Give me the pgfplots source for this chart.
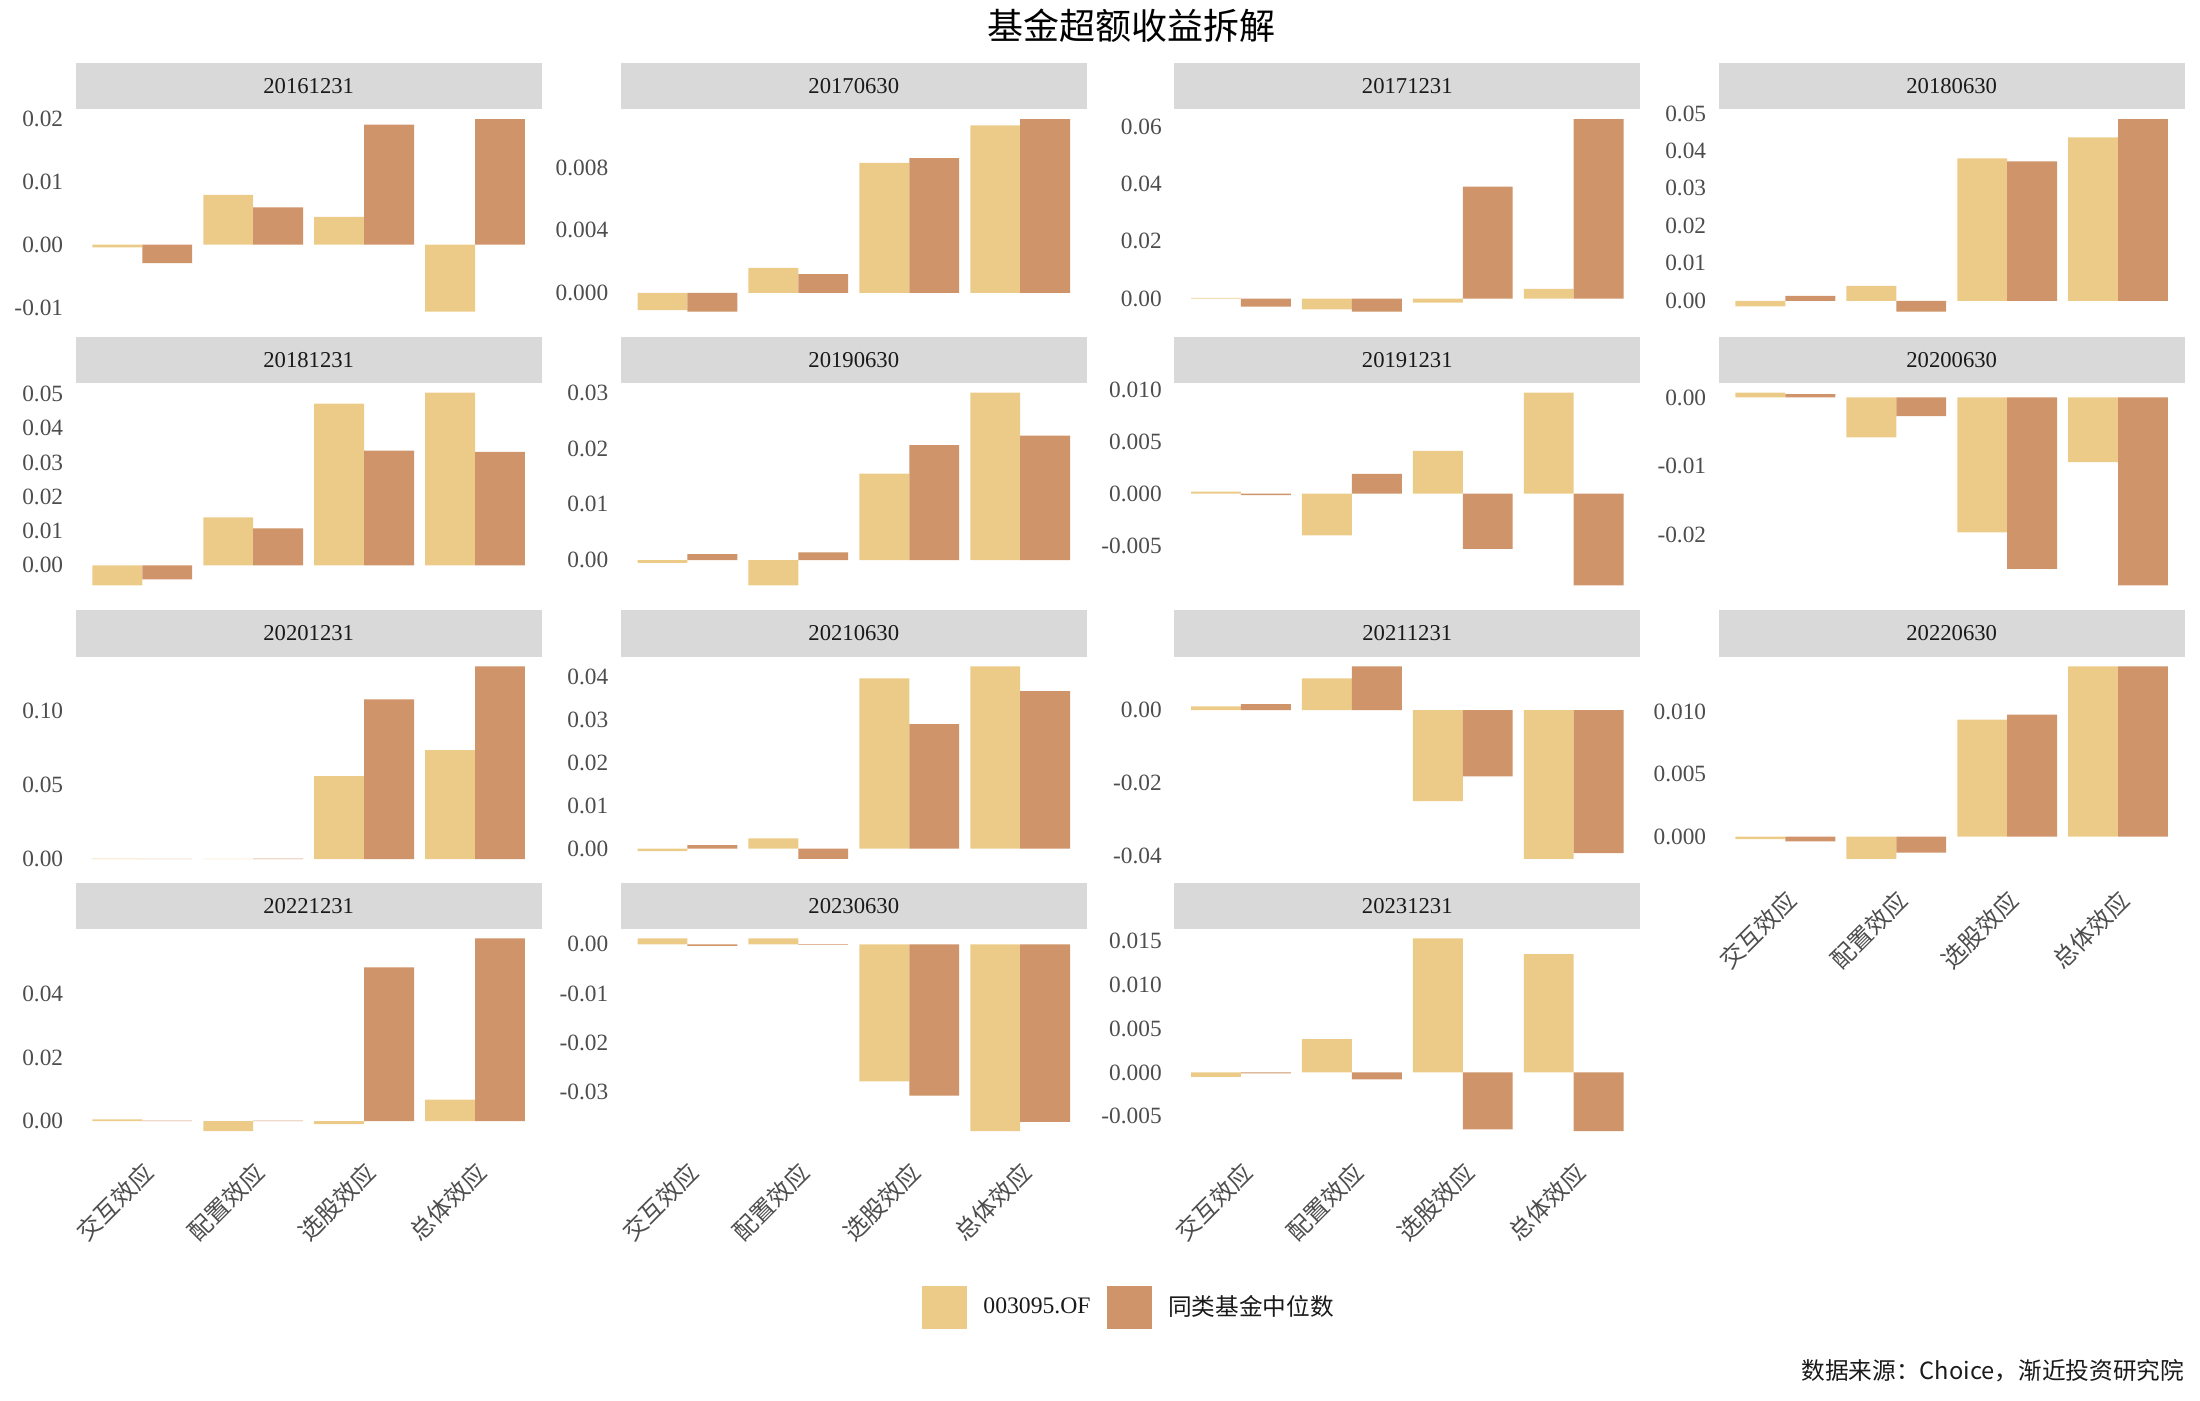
\documentclass[border=0pt]{standalone}
\usepackage{fontspec}
\setmainfont{Liberation Serif}
\newfontfamily\cjk{Noto Sans CJK SC}
\usepackage{pgfplots}
\pgfplotsset{compat=1.18}
\definecolor{cfund}{RGB}{236,203,136}
\definecolor{cmed}{RGB}{207,148,105}
\definecolor{stripc}{RGB}{217,217,217}
\definecolor{tickc}{RGB}{77,77,77}
\definecolor{txt}{RGB}{26,26,26}
\pgfplotsset{
  panel/.style={scale only axis, width=139.75pt, height=63.56pt, anchor=north west,
    xmin=-0.6, xmax=3.6, enlarge x limits=false, enlarge y limits=0.05,
    axis line style={draw=none}, tick style={draw=none}, major tick length=0pt,
    scaled y ticks=false, scaled x ticks=false,
    xtick={0,1,2,3}, xticklabels={,,,},
    yticklabel style={font=\fontsize{7}{8}\selectfont, text=tickc, anchor=east, inner sep=0pt, xshift=-3.6pt},
    /pgf/number format/assume math mode=true, clip=false},
  xlab/.style={xticklabels={交互效应,配置效应,选股效应,总体效应},
    xticklabel style={font=\cjk\fontsize{7.2}{8}\selectfont, text=tickc, rotate=45, anchor=north east, inner sep=0pt, xshift=-4.2pt, yshift=-3.8pt}},
  fund/.style={ybar, bar width=0.45, bar shift=-0.225, fill=cfund, draw=none},
  med/.style={ybar, bar width=0.45, bar shift=0.225, fill=cmed, draw=none},
}
\newcommand{\strip}[3]{\fill[stripc] (#1,#2) rectangle ++(139.75pt,13.89pt);
  \path (#1,#2) ++(69.875pt,6.945pt) node[font=\fontsize{6.8}{8}\selectfont, text=txt] {#3};}
\begin{document}
\begin{tikzpicture}
\useasboundingbox (0,0) rectangle (660pt,-420pt);
\node[font=\cjk\fontsize{10.8}{12}\selectfont, text=black] at (339.3pt,-7.6pt) {基金超额收益拆解};
% strips
\strip{22.73pt}{-32.83pt}{20161231}
\strip{186.26pt}{-32.83pt}{20170630}
\strip{352.31pt}{-32.83pt}{20171231}
\strip{515.63pt}{-32.83pt}{20180630}
\strip{22.73pt}{-114.91pt}{20181231}
\strip{186.26pt}{-114.91pt}{20190630}
\strip{352.31pt}{-114.91pt}{20191231}
\strip{515.63pt}{-114.91pt}{20200630}
\strip{22.73pt}{-196.99pt}{20201231}
\strip{186.26pt}{-196.99pt}{20210630}
\strip{352.31pt}{-196.99pt}{20211231}
\strip{515.63pt}{-196.99pt}{20220630}
\strip{22.73pt}{-278.65pt}{20221231}
\strip{186.26pt}{-278.65pt}{20230630}
\strip{352.31pt}{-278.65pt}{20231231}
% row 1
\begin{axis}[panel, at={(22.73pt,-32.83pt)}, ytick={-0.01,0,0.01,0.02}, yticklabels={-0.01,0.00,0.01,0.02}]
\addplot[fund] coordinates {(0,-0.0004) (1,0.0079) (2,0.0044) (3,-0.0106)};
\addplot[med] coordinates {(0,-0.0029) (1,0.0059) (2,0.0190) (3,0.0199)};
\end{axis}
\begin{axis}[panel, at={(186.26pt,-32.83pt)}, ytick={0,0.004,0.008}, yticklabels={0.000,0.004,0.008}]
\addplot[fund] coordinates {(0,-0.0011) (1,0.0016) (2,0.0083) (3,0.0107)};
\addplot[med] coordinates {(0,-0.0012) (1,0.0012) (2,0.0086) (3,0.0111)};
\end{axis}
\begin{axis}[panel, at={(352.31pt,-32.83pt)}, ytick={0,0.02,0.04,0.06}, yticklabels={0.00,0.02,0.04,0.06}]
\addplot[fund] coordinates {(0,0.0002) (1,-0.0038) (2,-0.0014) (3,0.0034)};
\addplot[med] coordinates {(0,-0.0028) (1,-0.0046) (2,0.0391) (3,0.0627)};
\end{axis}
\begin{axis}[panel, at={(515.63pt,-32.83pt)}, ytick={0,0.01,0.02,0.03,0.04,0.05}, yticklabels={0.00,0.01,0.02,0.03,0.04,0.05}]
\addplot[fund] coordinates {(0,-0.0015) (1,0.0040) (2,0.0380) (3,0.0436)};
\addplot[med] coordinates {(0,0.0013) (1,-0.0029) (2,0.0372) (3,0.0485)};
\end{axis}
% row 2
\begin{axis}[panel, at={(22.73pt,-114.91pt)}, ytick={0,0.01,0.02,0.03,0.04,0.05}, yticklabels={0.00,0.01,0.02,0.03,0.04,0.05}]
\addplot[fund] coordinates {(0,-0.0058) (1,0.0140) (2,0.0472) (3,0.0504)};
\addplot[med] coordinates {(0,-0.0041) (1,0.0108) (2,0.0335) (3,0.0331)};
\end{axis}
\begin{axis}[panel, at={(186.26pt,-114.91pt)}, ytick={0,0.01,0.02,0.03}, yticklabels={0.00,0.01,0.02,0.03}]
\addplot[fund] coordinates {(0,-0.0005) (1,-0.0045) (2,0.0155) (3,0.0300)};
\addplot[med] coordinates {(0,0.0011) (1,0.0014) (2,0.0206) (3,0.0223)};
\end{axis}
\begin{axis}[panel, at={(352.31pt,-114.91pt)}, ytick={-0.005,0,0.005,0.010}, yticklabels={-0.005,0.000,0.005,0.010}]
\addplot[fund] coordinates {(0,0.0002) (1,-0.0040) (2,0.0041) (3,0.0097)};
\addplot[med] coordinates {(0,-0.00013) (1,0.0019) (2,-0.0053) (3,-0.0088)};
\end{axis}
\begin{axis}[panel, at={(515.63pt,-114.91pt)}, ytick={-0.02,-0.01,0}, yticklabels={-0.02,-0.01,0.00}]
\addplot[fund] coordinates {(0,0.0007) (1,-0.0058) (2,-0.0196) (3,-0.0094)};
\addplot[med] coordinates {(0,0.0005) (1,-0.0027) (2,-0.0249) (3,-0.0273)};
\end{axis}
% row 3
\begin{axis}[panel, at={(22.73pt,-196.99pt)}, ytick={0,0.05,0.10}, yticklabels={0.00,0.05,0.10}]
\addplot[fund] coordinates {(0,0.0003) (1,0.0002) (2,0.0559) (3,0.0734)};
\addplot[med] coordinates {(0,0.0002) (1,0.0003) (2,0.1076) (3,0.1298)};
\end{axis}
\begin{axis}[panel, at={(186.26pt,-196.99pt)}, ytick={0,0.01,0.02,0.03,0.04}, yticklabels={0.00,0.01,0.02,0.03,0.04}]
\addplot[fund] coordinates {(0,-0.0006) (1,0.0024) (2,0.0397) (3,0.0425)};
\addplot[med] coordinates {(0,0.0008) (1,-0.0024) (2,0.0290) (3,0.0367)};
\end{axis}
\begin{axis}[panel, at={(352.31pt,-196.99pt)}, ytick={-0.04,-0.02,0}, yticklabels={-0.04,-0.02,0.00}]
\addplot[fund] coordinates {(0,0.0011) (1,0.0088) (2,-0.0250) (3,-0.0409)};
\addplot[med] coordinates {(0,0.0017) (1,0.0121) (2,-0.0182) (3,-0.0393)};
\end{axis}
\begin{axis}[panel, xlab, at={(515.63pt,-196.99pt)}, ytick={0,0.005,0.010}, yticklabels={0.000,0.005,0.010}]
\addplot[fund] coordinates {(0,-0.0002) (1,-0.0018) (2,0.0094) (3,0.0137)};
\addplot[med] coordinates {(0,-0.0004) (1,-0.0013) (2,0.0098) (3,0.0137)};
\end{axis}
% row 4
\begin{axis}[panel, xlab, at={(22.73pt,-278.65pt)}, ytick={0,0.02,0.04}, yticklabels={0.00,0.02,0.04}]
\addplot[fund] coordinates {(0,0.0006) (1,-0.0031) (2,-0.0009) (3,0.0068)};
\addplot[med] coordinates {(0,0.0002) (1,0.0002) (2,0.0483) (3,0.0574)};
\end{axis}
\begin{axis}[panel, xlab, at={(186.26pt,-278.65pt)}, ytick={-0.04,-0.03,-0.02,-0.01,0}, yticklabels={-0.04,-0.03,-0.02,-0.01,0.00}]
\addplot[fund] coordinates {(0,0.0012) (1,0.0012) (2,-0.0279) (3,-0.0380)};
\addplot[med] coordinates {(0,-0.0003) (1,-0.0001) (2,-0.0308) (3,-0.0361)};
\end{axis}
\begin{axis}[panel, xlab, at={(352.31pt,-278.65pt)}, ytick={-0.005,0,0.005,0.010,0.015}, yticklabels={-0.005,0.000,0.005,0.010,0.015},
  legend style={at={(rel axis cs:-0.5422,-0.788)}, anchor=west, draw=none, fill=none, inner sep=0pt,
    legend columns=2, font=\fontsize{7.1}{8}\selectfont, text=txt,
    /tikz/every odd column/.append style={column sep=2.8pt},
    /tikz/every even column/.append style={column sep=3pt}},
  legend image code/.code={\fill[#1] (0pt,-6.5pt) rectangle (13.5pt,6.5pt);}]
\addlegendimage{fill=cfund, draw=none}
\addlegendentry{003095.OF}
\addlegendimage{fill=cmed, draw=none}
\addlegendentry{\cjk 同类基金中位数}
\addplot[fund, forget plot] coordinates {(0,-0.0005) (1,0.0038) (2,0.0153) (3,0.0135)};
\addplot[med, forget plot] coordinates {(0,-0.0001) (1,-0.0008) (2,-0.0065) (3,-0.0067)};
\end{axis}
\node[anchor=east, inner sep=0pt, font=\cjk\fontsize{7.1}{9}\selectfont, text=txt] at (655.4pt,-411.2pt) {数据来源：Choice，渐近投资研究院};
\end{tikzpicture}
\end{document}
